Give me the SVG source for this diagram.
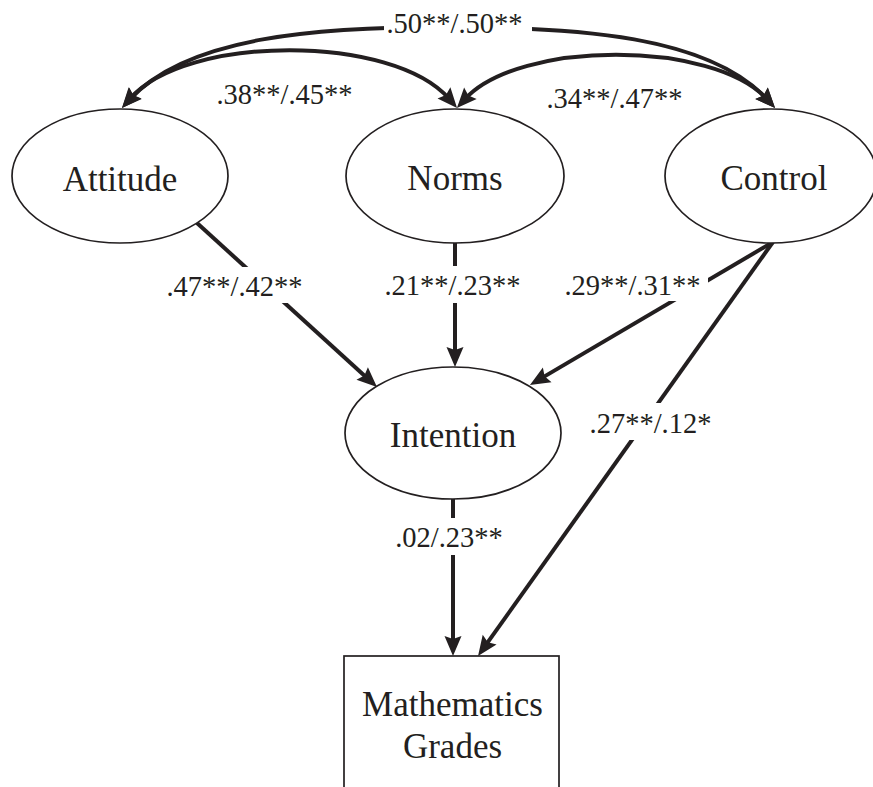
<svg xmlns="http://www.w3.org/2000/svg" width="873" height="787" viewBox="0 0 873 787">
<style>
.node{fill:#fff;stroke:#231f20;stroke-width:1.7}
.nt{font-size:35px;fill:#231f20;text-anchor:middle}
.lb{font-size:28.5px;fill:#231f20;text-anchor:middle}
.edge{fill:none;stroke:#231f20;stroke-width:4}
.bg{fill:#fff}
</style>
<defs>
<marker id="ah" markerUnits="userSpaceOnUse" markerWidth="20" markerHeight="17" refX="8" refY="8.5" orient="auto-start-reverse" overflow="visible">
<path d="M0,0 L20,8.5 L0,17 L3,8.5 z" fill="#231f20"/>
</marker>
</defs>
<rect width="873" height="787" fill="#fff"/>
<g id="connectors">
<path class="edge" d="M130.1,99.2 C188,36 320,27 448.5,27 C577,27 709,36 766.9,99.2" marker-start="url(#ah)" marker-end="url(#ah)"/>
<path class="edge" d="M129.8,98.9 C186,34 393,34 449.2,98.9" marker-start="url(#ah)" marker-end="url(#ah)"/>
<path class="edge" d="M465,99.1 C519,40 713,40 767,99.1" marker-start="url(#ah)" marker-end="url(#ah)"/>
<path class="edge" d="M197,223 L368.1,378.9" marker-end="url(#ah)"/>
<path class="edge" d="M455,243 L455,355" marker-end="url(#ah)"/>
<path class="edge" d="M773,242 L540.3,378.9" marker-end="url(#ah)"/>
<path class="edge" d="M773,242 L485,646.2" marker-end="url(#ah)"/>
<path class="edge" d="M453,499 L453,644" marker-end="url(#ah)"/>
</g>
<g id="labels" font-family="Liberation Serif, DejaVu Serif, serif">
<rect class="bg" x="384" y="8" width="148" height="34"/>
<text class="lb" x="454.5" y="33">.50**/.50**</text>
<text class="lb" x="284.5" y="104">.38**/.45**</text>
<text class="lb" x="614.5" y="108">.34**/.47**</text>
<rect class="bg" x="163" y="267" width="142" height="36"/>
<text class="lb" x="234.5" y="296">.47**/.42**</text>
<rect class="bg" x="382" y="266" width="142" height="37"/>
<text class="lb" x="452.5" y="295">.21**/.23**</text>
<rect class="bg" x="562" y="266" width="146" height="35"/>
<text class="lb" x="632.5" y="295">.29**/.31**</text>
<rect class="bg" x="586" y="403" width="129" height="37"/>
<text class="lb" x="650.5" y="433">.27**/.12*</text>
<rect class="bg" x="392" y="518" width="114" height="37"/>
<text class="lb" x="449" y="547">.02/.23**</text>
</g>
<g id="attitude" font-family="Liberation Serif, DejaVu Serif, serif">
<ellipse class="node" cx="120" cy="176" rx="108" ry="67"/>
<text class="nt" x="120" y="191">Attitude</text>
</g>
<g id="norms" font-family="Liberation Serif, DejaVu Serif, serif">
<ellipse class="node" cx="455" cy="176" rx="109" ry="67"/>
<text class="nt" x="455" y="190">Norms</text>
</g>
<g id="control" font-family="Liberation Serif, DejaVu Serif, serif">
<ellipse class="node" cx="771" cy="176" rx="106" ry="67"/>
<text class="nt" x="774" y="190">Control</text>
</g>
<g id="intention" font-family="Liberation Serif, DejaVu Serif, serif">
<ellipse class="node" cx="453" cy="433" rx="108" ry="66"/>
<text class="nt" x="453" y="447">Intention</text>
</g>
<g id="grades" font-family="Liberation Serif, DejaVu Serif, serif">
<rect class="node" x="344" y="656" width="215" height="150"/>
<text class="nt" x="452.5" y="716">Mathematics</text>
<text class="nt" x="452.5" y="758">Grades</text>
</g>
</svg>
